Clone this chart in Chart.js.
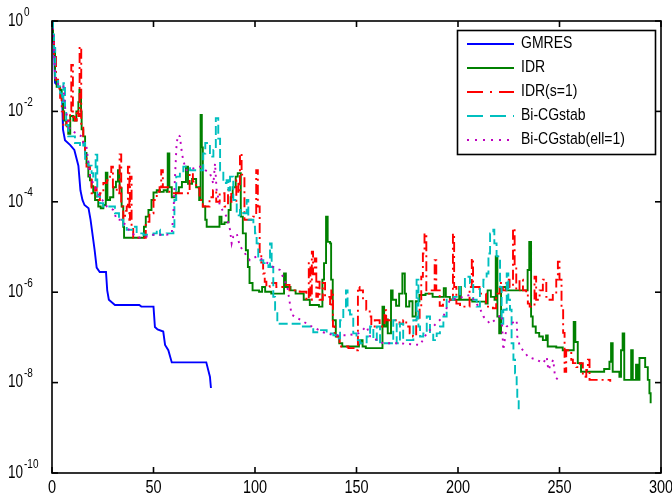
<!DOCTYPE html>
<html>
<head>
<meta charset="utf-8">
<script src="https://cdn.jsdelivr.net/npm/chart.js@4.4.1/dist/chart.umd.min.js"></script>
<style>
  html, body { margin: 0; padding: 0; background: #fff; }
  #wrap { width: 672px; height: 496px; }
</style>
</head>
<body>
<div id="wrap"><canvas id="myChart" width="672" height="496"></canvas></div>
<script>
// residual history of each solver, [iteration, relative residual]
const gmres = [[0,1],[1,0.27],[1.5,0.043],[4,0.033],[5,0.02],[5.4,4e-3],[6.4,2.3e-3],[9,1.8e-3],[11,1.4e-3],[13,6.3e-4],[14,1.8e-4],[15,1.1e-4],[16,8.5e-5],[18,7.2e-5],[19,4e-5],[21,8.5e-6],[22,3.5e-6],[23.5,2.8e-6],[26.6,2.8e-6],[27.2,1.1e-6],[28,6.8e-7],[31,5.2e-7],[43,5.2e-7],[44,4.8e-7],[50,4.8e-7],[50.7,1.7e-7],[52,1.5e-7],[54.8,1.35e-7],[55.7,6.8e-8],[57.3,5.2e-8],[59,2.8e-8],[76,2.8e-8],[77.8,1.35e-8],[78.3,7.6e-9]];

const idr = [[0,1],[0.5,0.35],[1,0.25],[1.5,0.05],[2.3,0.035],[4,0.03],[4.8,0.018],[5.5,0.01],[6,6.3e-3],[7,5e-3],[8,3.2e-3],[9,7.9e-3],[10.5,6.3e-3],[12,0.01],[13,0.016],[13.5,0.03],[14.3,0.01],[14.6,4e-3],[15.4,2.8e-3],[16.3,1.2e-3],[17,7.2e-4],[17.9,3.6e-4],[18.7,3e-4],[19.5,2.2e-4],[20.3,1.6e-4],[21.2,1.1e-4],[22.8,7.9e-5],[24,7.2e-5],[25.3,8.5e-5],[26.5,4.4e-4],[27.3,1.1e-4],[28.6,1.26e-4],[30.2,2.1e-4],[31.5,2.8e-4],[32.5,5e-4],[33.3,2e-4],[34.3,7.9e-5],[35.1,2.8e-5],[35.5,1.6e-5],[45.3,2.8e-5],[46.2,4.7e-5],[47.5,6.6e-5],[49,1.1e-4],[50,1.6e-4],[51.6,1.8e-4],[53.2,1.66e-4],[55,1.8e-4],[56.5,1.66e-4],[57,1.17e-3],[57.8,2.1e-4],[59,1.26e-4],[61,1.6e-4],[62.5,2.1e-4],[64,2.75e-4],[66,6e-4],[67,2.5e-4],[69,3.2e-4],[71,2.1e-4],[72.5,1.1e-4],[73.2,8.3e-3],[73.8,1.6e-3],[74.3,7.9e-5],[75.5,4e-5],[76.2,2.8e-5],[82.5,4.7e-5],[83.5,3.2e-5],[85,3.5e-5],[87,6.6e-5],[88,1.26e-4],[89,2.1e-4],[90.5,3.6e-4],[91.5,4.3e-4],[93,4.7e-5],[94,2e-5],[95.5,8.5e-6],[96.5,3.6e-6],[97.3,1.6e-6],[98.8,1.1e-6],[102,1.02e-6],[103.5,1.3e-6],[105,1.02e-6],[108,9.3e-7],[114.3,2.6e-6],[115.2,1.3e-6],[117.5,1.1e-6],[120,9.3e-7],[124,6.8e-7],[127,5.2e-7],[131.5,4.8e-7],[133.2,1.9e-6],[134,4.4e-6],[135,4.7e-5],[135.8,1.3e-5],[137,1.2e-5],[137.5,1.9e-6],[138.3,2.4e-7],[139.8,1.05e-7],[141.5,7.4e-8],[143,6.3e-8],[151.2,7.4e-8],[152,8.7e-8],[153,6.3e-8],[154.6,5.8e-8],[162.8,4.8e-7],[163.6,1.74e-7],[164.6,2.5e-7],[165.4,1.23e-7],[167,1.1e-6],[167.8,6.8e-7],[169.5,5e-7],[171,9.3e-7],[172.6,2.6e-6],[173.8,9.3e-7],[174.4,4.8e-7],[176,6.3e-7],[177.6,2.9e-7],[179.2,6.3e-7],[181,8.7e-7],[184,9.3e-7],[187.5,7.9e-7],[193,1.23e-6],[194,7.9e-7],[196,6.8e-7],[200.6,1.3e-6],[201.4,6.8e-7],[207,6.2e-7],[213.6,5.6e-7],[214.6,1.1e-6],[216.2,7.9e-7],[218,6.8e-7],[218.6,6.2e-6],[219.4,2.9e-7],[220.3,1.23e-7],[221.2,1.3e-6],[223.5,1.1e-6],[234.3,3.1e-6],[235.1,1.3e-5],[236,2.9e-7],[236.8,1.74e-7],[238.3,1.26e-7],[240,1.05e-7],[241.8,8.7e-8],[243.4,1.1e-7],[244.2,6.3e-8],[248.4,6e-8],[251.6,5.2e-8],[257,2.2e-7],[257.8,7.9e-8],[259,2.7e-8],[260.6,1.74e-8],[272,2e-8],[274.6,2.9e-8],[275.4,7.4e-8],[276.2,1.74e-8],[279.5,1.35e-8],[280.3,5.2e-8],[281.1,1.23e-7],[281.9,1.15e-8],[285.3,5.2e-8],[286.1,1.15e-8],[287.7,2.5e-8],[288.5,1.15e-8],[289.4,3.5e-8],[292.2,2.2e-8],[293.5,1.15e-8],[294.3,5.8e-9],[294.9,3.5e-9]];

const idrS1 = [[0,1],[0.5,0.5],[1,0.16],[2,0.05],[3,0.032],[4,0.02],[4.8,0.01],[5.6,4.6e-3],[7.2,6.3e-3],[8.9,0.01],[9.5,0.107],[10.3,7.6e-3],[11.3,6.3e-3],[12.2,0.0107],[13,7.9e-3],[13.6,0.27],[14.4,4.6e-3],[15.4,2e-3],[16.3,1e-3],[17,6e-4],[18.7,3.6e-4],[19.5,1.55e-4],[21.2,2.1e-4],[22,1.1e-4],[23.6,1.55e-4],[25.3,2.6e-4],[27,3e-4],[28.6,3.6e-4],[29.2,6e-4],[30,2.1e-4],[31.9,1.55e-4],[33.3,1.12e-3],[34.1,7.9e-5],[35.1,4e-5],[36,6.3e-5],[36.8,7.9e-5],[37.4,6e-4],[38.1,4e-5],[38.4,3.6e-4],[39.2,2.5e-5],[40,1.6e-5],[46.2,3.6e-5],[48,5.6e-5],[50,1.1e-4],[51.6,1.66e-4],[53,2.1e-4],[53.8,5e-4],[54.6,2.1e-4],[57.8,1.55e-4],[67.8,4.3e-4],[69.4,2.8e-4],[71,2e-4],[72.7,1.1e-4],[74.3,7.9e-5],[77.6,1.26e-4],[79.3,1.8e-4],[80.9,1e-4],[82.6,1.55e-4],[85,7.9e-5],[86.7,1.8e-4],[88.3,1e-4],[90.8,3e-4],[91.8,1.55e-4],[92.6,1.17e-3],[93.4,4e-4],[94.8,4e-5],[99,4.7e-5],[100.6,5e-4],[101.4,7.9e-5],[102.3,7.2e-6],[103.1,4.5e-6],[104,2.6e-6],[104.8,1.7e-6],[105.6,1.3e-6],[107.2,1.6e-6],[110.5,1.3e-6],[115.4,1.45e-6],[117,1.1e-6],[122,1.02e-6],[125.3,6.8e-7],[126.5,4.4e-6],[127.3,6.8e-7],[128,7.9e-6],[128.6,2.5e-6],[129.4,5.6e-6],[130.2,7.9e-7],[131,1.7e-6],[131.8,6.8e-7],[133.4,1.6e-6],[134.5,7.9e-7],[137,4.8e-7],[137.6,1.1e-6],[138.4,1.74e-7],[139.2,1.05e-7],[141.7,6.3e-8],[146,5.8e-8],[149.5,5.2e-8],[150.7,1.3e-6],[151.5,1.1e-6],[153.2,6.8e-7],[154.8,4.1e-7],[156.5,2.9e-7],[157.3,1.74e-7],[159,2.4e-7],[161.4,1.74e-7],[163.8,4e-7],[164.6,2.4e-7],[171.2,2e-7],[173,2.4e-7],[174.5,1.74e-7],[176.2,1.23e-7],[177.8,1.05e-7],[179.4,2.4e-7],[181.1,4.8e-7],[181.9,2.2e-6],[182.7,7.2e-6],[183.5,2e-5],[184.4,9.3e-7],[186,1.1e-6],[188.5,5.1e-6],[189.3,1.1e-6],[191,5e-7],[192.6,6.8e-7],[197.5,2e-5],[198.1,1.3e-6],[199.2,5.6e-7],[201,4.8e-7],[205.7,1.3e-6],[206.8,5.6e-6],[207.4,1.3e-6],[210.6,9.3e-7],[213.8,4.8e-7],[217.2,4.4e-7],[218.8,9.3e-7],[220.5,1.6e-6],[222.1,1.1e-6],[223.8,1.9e-6],[225.4,1.3e-6],[227.1,2.6e-5],[227.9,3.6e-6],[228.7,1.1e-6],[230.3,1.9e-6],[232,1.1e-6],[233.6,9.3e-7],[234.4,5.6e-7],[235.3,4.8e-7],[237.7,2.2e-6],[238.5,6.8e-7],[240.2,1.1e-6],[241.8,1.9e-6],[243.5,7.9e-7],[245.1,6.8e-7],[246.7,9.3e-7],[248.4,1.9e-6],[249.2,4.7e-6],[250,1.9e-6],[251,4e-7],[251.8,1.26e-7],[252.5,1.74e-8],[253.3,5.2e-8],[255,4.8e-8],[255.8,3.2e-8],[256.6,2.7e-8],[258.3,2.2e-8],[260,2.7e-8],[261.5,1.35e-8],[263.2,1.9e-8],[264,3.2e-8],[264.8,1.15e-8],[275,1.05e-8]];

const bicgstab = [[0,1],[0.5,0.5],[1,0.25],[1.6,0.05],[3,0.035],[4,0.025],[5,0.016],[5.6,0.042],[6.4,0.01],[7,5e-3],[8,2.8e-3],[11.3,2e-3],[13.8,1.66e-3],[15.4,2e-3],[16.3,8.3e-4],[17.9,6.3e-4],[19.5,4.3e-4],[20.3,3e-4],[21.5,1.1e-3],[22.3,1.3e-4],[23.6,9.3e-5],[25.3,7.9e-5],[31,5.6e-5],[33,4e-5],[35.1,2.8e-5],[36.8,2.4e-5],[40,2.8e-5],[41.7,2e-5],[45,1.86e-5],[50,2e-5],[51.6,2.4e-5],[53.2,1.86e-5],[56.5,2e-5],[59.8,2.8e-5],[60.3,1.1e-4],[61.2,3.6e-4],[63,4.5e-4],[64.7,6e-4],[68,5e-4],[74.5,1.17e-3],[75.5,2e-3],[77.8,1e-3],[79.5,1.4e-3],[80.7,7.1e-3],[81.9,2.5e-3],[82.8,5e-4],[84.4,2.6e-4],[86,3e-4],[86.9,1.8e-4],[87.7,3.6e-4],[89.3,1.1e-4],[91,5e-5],[92.6,6.6e-5],[94.2,5.6e-5],[95.9,1.1e-4],[96.7,4e-5],[99.2,2.8e-5],[100,2e-5],[100.8,1.2e-5],[101.6,5.1e-6],[104.1,4.4e-6],[106.6,3.6e-6],[107.4,1.2e-5],[108.2,3.6e-6],[109,7.9e-7],[109.9,4.1e-7],[111,2e-7],[122,1.74e-7],[128.7,1.3e-7],[132,1.45e-7],[135.3,1.23e-7],[138.6,1.12e-7],[140.2,9.5e-8],[141.9,2.4e-7],[143.5,4.8e-7],[144.8,1.1e-6],[145.6,4e-7],[146.8,3.2e-7],[148.4,1.23e-7],[150,8.7e-8],[151.7,7.4e-8],[155,1.05e-7],[156.7,1.74e-7],[158.3,8.7e-8],[160,1.74e-7],[161.6,7.4e-8],[168.1,2.4e-7],[169.8,7.4e-8],[171.4,2e-7],[173,8.7e-8],[178,2.4e-7],[179.6,1.9e-6],[180.5,1.74e-7],[181.3,1.05e-7],[182.9,1.23e-7],[184.6,2.9e-7],[186.2,1.23e-7],[187.8,8.7e-8],[189.5,1.23e-7],[191.1,1.74e-7],[192.8,2.9e-7],[194.4,6.8e-7],[197.7,7.9e-7],[201,1.3e-6],[203.4,2.2e-6],[205.9,1.6e-6],[207.5,6.8e-7],[209.2,4.8e-7],[210.8,1.3e-6],[212.5,1.9e-6],[214.1,2.6e-6],[215,7.2e-6],[215.8,2e-5],[217.4,2.4e-5],[217.9,1.2e-5],[219,6.2e-6],[220.7,1.3e-6],[221.5,2e-7],[222.3,4.1e-7],[224,2.6e-6],[224.8,6.8e-7],[225.6,4.1e-7],[226.4,7.4e-8],[227.3,3.2e-8],[228.1,1.6e-8],[228.9,8.1e-9],[229.2,4.2e-9],[229.9,2.5e-9]];

const bicgstabL1 = [[0,1],[1,0.25],[1.6,0.05],[3,0.04],[5.6,0.038],[6.4,0.0126],[8.9,3.9e-3],[14.6,2.8e-3],[15.4,2e-3],[17,1.66e-3],[18.7,3.6e-4],[22,1.8e-4],[23.6,1.3e-4],[27,7.9e-5],[30.2,6.6e-5],[31.9,4e-5],[34.3,4e-5],[39.2,2e-5],[43.3,1.6e-5],[46.6,1.7e-5],[50,1.86e-5],[56.5,1.86e-5],[59,2e-5],[59.8,5.6e-5],[60.6,3.6e-4],[61.4,2e-3],[62.2,3e-3],[63,2.8e-3],[63.8,1.4e-3],[64.7,7.9e-4],[66.3,5e-4],[72.9,6e-4],[77.8,4.3e-4],[79.5,2.5e-4],[80.3,7.1e-4],[81.1,1.8e-4],[82.8,7.9e-5],[86,4.7e-5],[87.7,2.4e-5],[88.5,1.2e-5],[89.3,1.7e-5],[91,2e-5],[92.6,1.02e-5],[94.2,8.5e-6],[95.9,6.2e-6],[97.5,5.1e-6],[100.8,6.2e-6],[104.1,5.1e-6],[109,3.6e-6],[112.3,3.1e-6],[116,1.26e-6],[118,3.2e-7],[122,2.5e-7],[128,1.74e-7],[133.6,1.3e-7],[138.6,1.12e-7],[146,1.12e-7],[151,1.23e-7],[155,1.74e-7],[156.7,1.05e-7],[163.2,7.4e-8],[171.4,7.4e-8],[181.3,6.8e-8],[184.6,1.23e-7],[187.8,1.74e-7],[192.8,2.9e-7],[196,6.8e-7],[199.4,7.2e-7],[205.9,8.7e-7],[210.8,4.4e-7],[212.5,2.9e-7],[215.8,2e-7],[221.5,3.2e-7],[222.3,5.2e-8],[224,1.74e-7],[228.9,2.4e-7],[229.2,1.05e-7],[230.5,6.3e-8],[234.6,3.7e-8],[238.7,3.2e-8],[242,2.7e-8],[243.7,3.7e-8],[244.5,1.9e-8],[246.9,3.2e-8],[247.8,1.35e-8],[250.2,1.05e-8]];

const xTicks = [0, 50, 100, 150, 200, 250, 300];
const yTicks = [1, 1e-2, 1e-4, 1e-6, 1e-8, 1e-10];
const yTickExp = ['0', '-2', '-4', '-6', '-8', '-10'];

const FONT = '"Liberation Sans", Arial, Helvetica, sans-serif';

const series = [
    { label: 'GMRES', data: gmres, color: '#0000ff', dash: [], keyDash: [], stepped: false },
    { label: 'IDR', data: idr, color: '#008000', dash: [], keyDash: [], stepped: true },
    { label: 'IDR(s=1)', data: idrS1, color: '#ff0000', dash: [10, 4, 2, 4], keyDash: [16, 7, 2, 7], stepped: true },
    { label: 'Bi-CGstab', data: bicgstab, color: '#00bfbf', dash: [9, 4], keyDash: [16, 7], stepped: true },
    { label: 'Bi-CGstab(ell=1)', data: bicgstabL1, color: '#bf00bf', dash: [2, 5], keyDash: [2, 6], stepped: false }
];

// text in this figure is tall and narrow, so stretch it vertically
function tallText(ctx, text, x, y, size, align, stretch) {
    ctx.save();
    ctx.translate(x, y);
    ctx.scale(1, stretch);
    ctx.font = size + 'px ' + FONT;
    ctx.textAlign = align;
    ctx.textBaseline = 'middle';
    ctx.fillStyle = '#000';
    ctx.fillText(text, 0, 0);
    ctx.restore();
}

function seg(ctx, x1, y1, x2, y2) {
    ctx.beginPath();
    ctx.moveTo(x1, y1);
    ctx.lineTo(x2, y2);
    ctx.stroke();
}

// box, inward ticks, tick labels and the legend
const matlabAxes = {
    id: 'matlabAxes',
    afterDraw(chart) {
        const ctx = chart.ctx;
        const a = chart.chartArea;
        const xs = chart.scales.x;
        const ys = chart.scales.y;
        ctx.save();
        ctx.strokeStyle = '#000';
        ctx.lineWidth = 1.6;
        ctx.setLineDash([]);
        ctx.strokeRect(a.left, a.top, a.right - a.left, a.bottom - a.top);

        xTicks.forEach(v => {
            const px = xs.getPixelForValue(v);
            seg(ctx, px, a.bottom, px, a.bottom - 6);
            seg(ctx, px, a.top, px, a.top + 6);
            tallText(ctx, String(v), px, a.bottom + 15, 14.5, 'center', 1.25);
        });

        yTicks.forEach((v, i) => {
            const py = ys.getPixelForValue(v);
            seg(ctx, a.left, py, a.left + 6, py);
            seg(ctx, a.right, py, a.right - 6, py);
            tallText(ctx, '10', 8, py, 13.5, 'left', 1.3);
            tallText(ctx, yTickExp[i], 24, py - 9, 10, 'left', 1.3);
        });

        // legend
        const bx = 457, by = 30, bw = 198, bh = 124;
        ctx.fillStyle = '#fff';
        ctx.fillRect(bx, by, bw, bh);
        ctx.strokeRect(bx + 0.5, by + 0.5, bw, bh);
        series.forEach((s, i) => {
            const ly = 44 + i * 24;
            ctx.strokeStyle = s.color;
            ctx.lineWidth = 1.9;
            ctx.setLineDash(s.keyDash);
            seg(ctx, 467, ly, 514, ly);
            ctx.setLineDash([]);
            tallText(ctx, s.label, 521, ly, 14, 'left', 1.15);
        });
        ctx.restore();
    }
};

const ctx = document.getElementById('myChart');

new Chart(ctx, {
    type: 'line',
    data: {
        datasets: series.map((s, i) => ({
            label: s.label,
            data: s.data.map(p => ({ x: p[0], y: p[1] })),
            borderColor: s.color,
            backgroundColor: s.color,
            borderWidth: 1.9,
            borderDash: s.dash,
            stepped: s.stepped,
            pointRadius: 0,
            tension: 0,
            fill: false,
            order: series.length - i
        }))
    },
    options: {
        responsive: false,
        animation: false,
        events: [],
        layout: { padding: { top: 21, right: 11, left: 0, bottom: 0 } },
        plugins: {
            legend: { display: false },
            tooltip: { enabled: false },
            title: { display: false }
        },
        scales: {
            x: {
                type: 'linear',
                min: 0,
                max: 300,
                ticks: { display: false },
                grid: { display: false },
                border: { display: false },
                afterFit: s => { s.height = 23; }
            },
            y: {
                type: 'logarithmic',
                min: 1e-10,
                max: 1,
                ticks: { display: false },
                grid: { display: false },
                border: { display: false },
                afterFit: s => { s.width = 52; }
            }
        }
    },
    plugins: [matlabAxes]
});
</script>
</body>
</html>
